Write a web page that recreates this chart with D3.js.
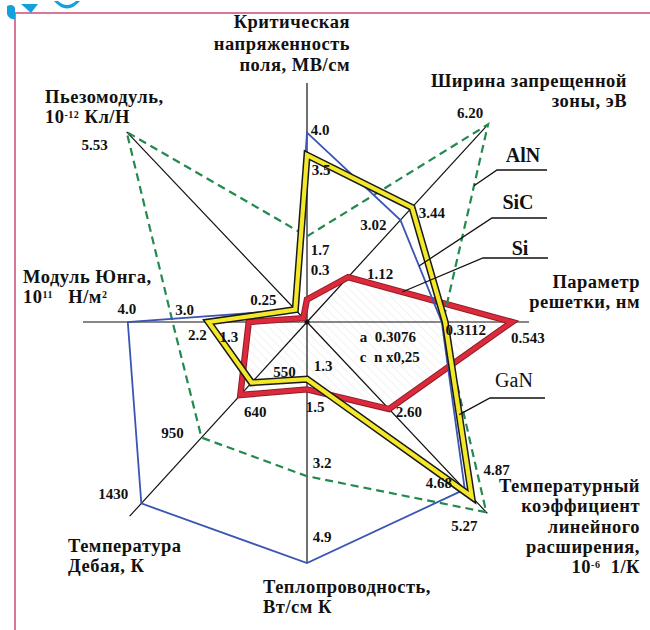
<!DOCTYPE html>
<html><head><meta charset="utf-8">
<script src="https://cdn.jsdelivr.net/npm/d3@7"></script>
<style>body{margin:0;background:#fff;overflow:hidden}text{white-space:pre}</style>
</head><body><svg id="c" width="650" height="630"></svg>
<script>
// ---------------- DATA ----------------
const axisTitles = [
  ["Критическая","напряженность","поля, МВ/см"],
  ["Ширина запрещенной","зоны, эВ"],
  ["Параметр","решетки, нм"],
  ["Температурный","коэффициент","линейного","расширения,","10{-6}  1/К"],
  ["Теплопроводность,","Вт/см К"],
  ["Температура","Дебая, К"],
  ["Модуль Юнга,","10{11}   Н/м{2}"],
  ["Пьезомодуль,","10{-12} Кл/Н"]
];
const seriesNames = ["AlN","SiC","Si","GaN"];
// order of axes: crit. field, band gap, lattice, thermal expansion, thermal conductivity, Debye T, Young, piezo
const alnValues = [1.7, 6.20, 0.3112, 5.27, 3.2, 950, 3.0, 5.53];
const sicValues = [4.0, 3.02, 0.3076, 4.68, 4.9, 1430, 4.0, 0.25];
const siValues  = [0.3, 1.12, 0.543, 2.60, 1.5, 640, 1.3, 0];
const ganValues = [3.5, 3.44, 0.3189, 4.87, 1.3, 550, 2.2, 0.25];
const tickLabels = [
  ["4.0","3.5","1.7","0.3"],
  ["6.20","3.44","3.02","1.12"],
  ["0.543","0.3112"],
  ["5.27","4.87","4.68","2.60"],
  ["4.9","3.2","1.5","1.3"],
  ["1430","950","640","550"],
  ["4.0","3.0","2.2","1.3"],
  ["5.53","0.25"]
];
const latticeNotes = ["a  0.3076", "c  n x0,25"];
const latticeNoteValue = 0.3076;

// ---------------- LAYOUT ----------------
const cx = 307, cy = 322;
const axisAngle  = [0, 42.5, 90, 136.7, 180, 222.4, 270, 316.5];
const axisDomain = [[-0.2,5.1],[-0.37,6.2],[-0.144,0.6],[0.35,5.3],[0.18,4.9],[108,1523],[0,5],[-0.116,5.53]];
const axisRange  = [239, 268, 222, 263, 241, 263, 224, 262];
const tickOffsets = [
  [[13,-3],[14,15],[13,13],[13,-30]],
  [[-18,-12],[20,5],[-27,5],[32,-3]],
  [[16,16],[23,8]],
  [[-22,14],[25,-27],[-26,-7],[20,3]],
  [[15,-26],[15,-13],[8,17],[16,-13]],
  [[-28,-10],[-29,-5],[15,17],[33,-11]],
  [[-1,-13],[12,-12],[-11,13],[-20,15]],
  [[-32,13],[-32,-10]]
];
const titleLayout = [
  {x:350,y:28,a:"end",lh:21.5},{x:627,y:87,a:"end",lh:20},{x:640,y:288,a:"end",lh:20},
  {x:640,y:492,a:"end",lh:20.25},{x:263,y:593,a:"start",lh:20},{x:68,y:552,a:"start",lh:20},
  {x:23,y:283,a:"start",lh:20},{x:45,y:103,a:"start",lh:20}
];
const seriesStyle = {
  AlN:{color:"#23894d",width:2.2,dash:"8,5"},
  SiC:{color:"#3a55b4",width:1.8},
  Si:{color:"#dc2a3c",width:4.4,edge:"#8d1d27",edgeW:6.4},
  GaN:{color:"#f3e829",width:4.2,edge:"#1a1a1a",edgeW:7.2}
};
// leader: segment from axis i to i+1, fraction t; elbow/end positions, label position
const leaderLayout = {
  AlN:{seg:1,t:0.31,elbow:[497,170],end:[547,170],label:[523,162],bold:true},
  SiC:{seg:1,t:0.45,elbow:[492,218],end:[547,218],label:[518,209],bold:true},
  Si:{seg:1,t:0.33,elbow:[483,258],end:[548,258],label:[520,255],bold:true},
  GaN:{seg:2,t:0.53,elbow:[490,398],end:[545,398],label:[514,387],bold:false}
};

// ---------------- DRAW ----------------
const svg = d3.select("#c");
const serif = "'Liberation Serif','Times New Roman',serif";
const defs = svg.append("defs");
const pat = defs.append("pattern").attr("id","hatch").attr("patternUnits","userSpaceOnUse")
  .attr("width",6).attr("height",6).attr("patternTransform","rotate(-45)");
pat.append("line").attr("x1",0).attr("y1",0).attr("x2",0).attr("y2",6).attr("stroke","#dedede").attr("stroke-width",0.8);

// frame and logo remnants
svg.append("rect").attr("x",15).attr("y",13).attr("width",660).attr("height",640)
  .attr("fill","none").attr("stroke","#c94b7b").attr("stroke-width",1.5);
svg.append("path").attr("d","M7,6 Q13,3 15,8 L15,19 Q9,20 7,14 Z").attr("fill","#14a0dc");
svg.append("path").attr("d","M21,4 L38,4 L31,13 Z").attr("fill","#14a0dc");
svg.append("path").attr("d","M54,1 Q67,16 80,1 L76,1 Q67,9 58,1 Z").attr("fill","#14a0dc");

const scales = axisDomain.map((d,i)=>d3.scaleLinear().domain(d).range([0,axisRange[i]]));
function polar(i,r){const a=axisAngle[i]*Math.PI/180;return [cx+r*Math.sin(a), cy-r*Math.cos(a)];}
function pt(i,v){return polar(i,scales[i](v));}

const seriesValues = {AlN:alnValues, SiC:sicValues, Si:siValues, GaN:ganValues};
const line = d3.line().curve(d3.curveLinearClosed);
const poly = name => line(seriesValues[name].map((v,i)=>pt(i,v)));

// Si hatch fill
svg.append("path").attr("d",poly("Si")).attr("fill","url(#hatch)").attr("stroke","none");

// axis lines
svg.append("g").selectAll("line").data(axisAngle).join("line")
  .attr("x1",cx).attr("y1",cy)
  .attr("x2",(d,i)=>polar(i,scales[i].range()[1])[0])
  .attr("y2",(d,i)=>polar(i,scales[i].range()[1])[1])
  .attr("stroke","#111").attr("stroke-width",1.2);
svg.append("circle").attr("cx",cx).attr("cy",cy).attr("r",2.5).attr("fill","#111");

// series
["Si","AlN","SiC","GaN"].forEach(name=>{
  const st = seriesStyle[name];
  if (st.edge) svg.append("path").attr("d",poly(name)).attr("fill","none")
      .attr("stroke",st.edge).attr("stroke-width",st.edgeW).attr("stroke-linejoin","miter");
  svg.append("path").attr("d",poly(name)).attr("fill","none")
    .attr("stroke",st.color).attr("stroke-width",st.width)
    .attr("stroke-dasharray",st.dash||null).attr("stroke-linejoin","miter");
});

// tick labels
tickLabels.forEach((labs,i)=>{
  labs.forEach((t,j)=>{
    const p = pt(i,+t), o = tickOffsets[i][j];
    svg.append("text").attr("x",p[0]+o[0]).attr("y",p[1]+o[1]).attr("dy","0.35em")
      .attr("text-anchor","middle").attr("font-family",serif).attr("font-weight","bold")
      .attr("font-size",15).attr("fill","#111").text(t);
  });
});
latticeNotes.forEach((t,k)=>{
  const p = pt(2,latticeNoteValue);
  svg.append("text").attr("x",p[0]-82).attr("y",p[1]+15+20*k).attr("dy","0.35em")
    .attr("font-family",serif).attr("font-weight","bold").attr("font-size",15).attr("fill","#111").text(t);
});

// axis titles (one text element per line, superscripts as tspans)
axisTitles.forEach((lines,i)=>{
  const L = titleLayout[i];
  lines.forEach((ln,k)=>{
    const tx = svg.append("text").attr("font-family",serif).attr("font-weight","bold")
      .attr("font-size",18.5).attr("letter-spacing",0.5).attr("fill","#111")
      .attr("text-anchor",L.a).attr("x",L.x).attr("y",L.y+k*L.lh);
    const parts = ln.split(/(\{[^}]*\})/).filter(s=>s.length);
    parts.forEach((s,m)=>{
      const sup = s.startsWith("{");
      const ts = tx.append("tspan").text(sup ? s.slice(1,-1) : s);
      if (sup) ts.attr("font-size",10).attr("dy",-5.5);
      else if (m>0 && parts[m-1].startsWith("{")) ts.attr("dy",5.5);
    });
  });
});

// legend leaders
seriesNames.forEach(name=>{
  const L = leaderLayout[name], v = seriesValues[name];
  const a = pt(L.seg, v[L.seg]), b = pt((L.seg+1)%8, v[(L.seg+1)%8]);
  const target = [a[0]+(b[0]-a[0])*L.t, a[1]+(b[1]-a[1])*L.t];
  svg.append("path").attr("d",d3.line()([target, L.elbow, L.end]))
    .attr("fill","none").attr("stroke","#111").attr("stroke-width",1.3);
  svg.append("text").attr("x",L.label[0]).attr("y",L.label[1]).attr("text-anchor","middle")
    .attr("font-family",serif).attr("font-weight",L.bold?"bold":"normal").attr("font-size",20)
    .attr("fill","#111").text(name);
});
</script></body></html>
